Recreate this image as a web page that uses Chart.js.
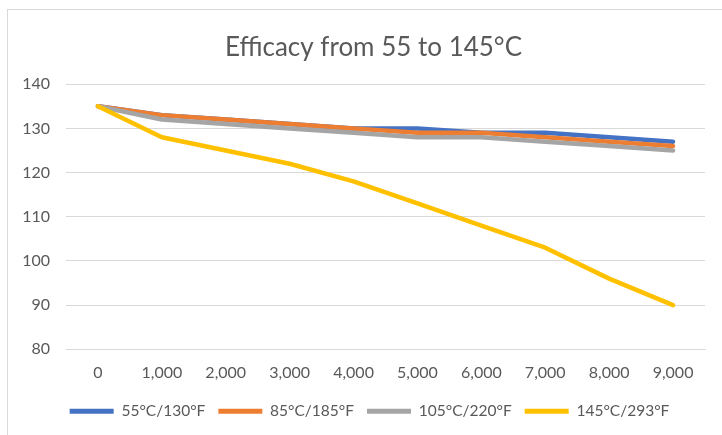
<!DOCTYPE html>
<html lang="en">
<head>
  <meta charset="UTF-8" />
  <title>Efficacy from 55 to 145°C</title>
  <script src="https://cdn.jsdelivr.net/npm/chart.js"></script>
  <style>
    html, body { margin: 0; padding: 0; background: #fff; overflow: hidden; }
    #wrap { position: relative; width: 722px; height: 435px; }
    #frame { position: absolute; left: 7px; top: 9px; width: 740px; height: 460px;
             border: 1px solid #d9d9d9; pointer-events: none; }
    canvas { position: absolute; left: 0; top: 0; }
  </style>
</head>
<body>
<div id="wrap">
  <canvas id="chart" width="722" height="435"></canvas>
  <div id="frame"></div>
</div>

<script>
  const hours = ['0', '1,000', '2,000', '3,000', '4,000', '5,000', '6,000', '7,000', '8,000', '9,000'];
  const seriesNames = ['55°C/130°F', '85°C/185°F', '105°C/220°F', '145°C/293°F'];
  const colors = ['#4472C4', '#ED7D31', '#A5A5A5', '#FFC000'];

  const temp55 = [135, 133, 132, 131, 130, 130, 129, 129, 128, 127];
  const temp85 = [135, 133, 132, 131, 130, 129, 129, 128, 127, 126];
  const temp105 = [135, 132, 131, 130, 129, 128, 128, 127, 126, 125];
  const temp145 = [135, 128, 125, 122, 118, 113, 108, 103, 96, 90];

  const yMin = 80, yMax = 140, yStep = 10;
  const textColor = '#595959';
  const gridColor = '#d9d9d9';
  const fontFamily = 'Lato, "Open Sans", sans-serif';

  const values = [temp55, temp85, temp105, temp145];

  // Excel draws later series on top, Chart.js draws lower order on top
  const datasets = values.map((v, i) => ({
    label: seriesNames[i],
    data: v,
    borderColor: colors[i],
    backgroundColor: colors[i],
    borderWidth: 4.5,
    pointRadius: 0,
    tension: 0,
    fill: false,
    borderJoinStyle: 'round',
    borderCapStyle: 'round',
    order: values.length - i
  }));

  // nudge title and legend so they sit centred like in the Excel frame
  const nudgeBoxes = {
    id: 'nudgeBoxes',
    afterLayout(chart) {
      const t = chart.titleBlock, l = chart.legend;
      if (t) { t.left += 21; t.right += 21; }
      if (l) { l.left += 17; l.right += 17; l.top -= 6; l.bottom -= 6; }
    }
  };

  new Chart(document.getElementById('chart'), {
    type: 'line',
    data: { labels: hours, datasets },
    plugins: [nudgeBoxes],
    options: {
      responsive: false,
      animation: false,
      layout: { padding: { left: 0, right: 17, top: 0, bottom: 0 } },
      plugins: {
        tooltip: { enabled: false },
        title: {
          display: true,
          text: 'Efficacy from 55 to 145°C',
          color: textColor,
          font: { family: fontFamily, size: 26, weight: 'normal' },
          padding: { top: 32, bottom: 21 }
        },
        legend: {
          position: 'bottom',
          labels: {
            color: textColor,
            font: { family: fontFamily, size: 15.5 },
            boxWidth: 44,
            boxHeight: 5,
            padding: 13,
            generateLabels: (chart) => chart.data.datasets.map((ds, i) => ({
              text: ds.label,
              fillStyle: ds.borderColor,
              strokeStyle: ds.borderColor,
              lineWidth: 0,
              fontColor: textColor,
              hidden: false,
              datasetIndex: i
            }))
          }
        }
      },
      scales: {
        x: {
          offset: true,
          grid: { display: false, drawTicks: false },
          border: { display: true, color: gridColor },
          ticks: {
            color: textColor,
            font: { family: fontFamily, size: 16 },
            padding: 14,
            maxRotation: 0,
            autoSkip: false
          }
        },
        y: {
          min: yMin,
          max: yMax,
          grid: { color: gridColor, drawTicks: false },
          border: { display: false },
          ticks: {
            stepSize: yStep,
            color: textColor,
            font: { family: fontFamily, size: 16 },
            padding: 16
          },
          afterFit: (scale) => { scale.width = 66; }
        }
      }
    }
  });
</script>
</body>
</html>
